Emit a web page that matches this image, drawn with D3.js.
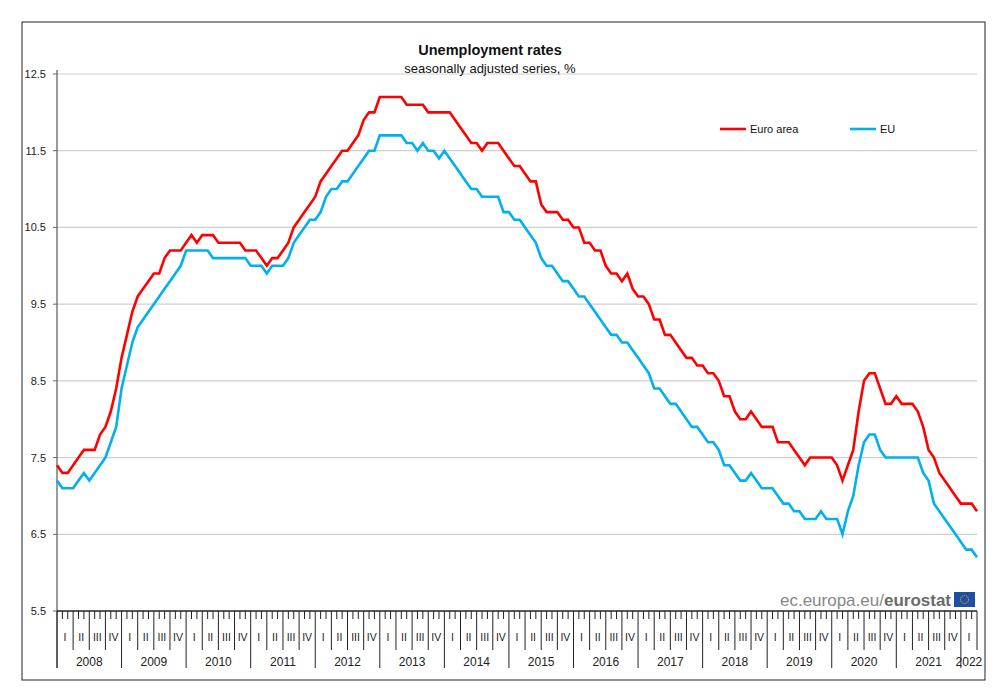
<!DOCTYPE html>
<html><head><meta charset="utf-8">
<script src="https://cdn.jsdelivr.net/npm/d3@7"></script>
<style>body{margin:0;background:#fff}svg{font-family:"Liberation Sans",Arial,sans-serif}</style>
</head><body><svg id="c" width="1000" height="694"></svg>
<script>
const years = ["2008","2009","2010","2011","2012","2013","2014","2015","2016","2017","2018","2019","2020","2021","2022"];
const quarters = ["I","II","III","IV"];
const yTicks = [5.5,6.5,7.5,8.5,9.5,10.5,11.5,12.5];
const euroArea = [
7.4,7.3,7.3,7.4,7.5,7.6,7.6,7.6,7.8,7.9,8.1,8.4,
8.8,9.1,9.4,9.6,9.7,9.8,9.9,9.9,10.1,10.2,10.2,10.2,
10.3,10.4,10.3,10.4,10.4,10.4,10.3,10.3,10.3,10.3,10.3,10.2,
10.2,10.2,10.1,10.0,10.1,10.1,10.2,10.3,10.5,10.6,10.7,10.8,
10.9,11.1,11.2,11.3,11.4,11.5,11.5,11.6,11.7,11.9,12.0,12.0,
12.2,12.2,12.2,12.2,12.2,12.1,12.1,12.1,12.1,12.0,12.0,12.0,
12.0,12.0,11.9,11.8,11.7,11.6,11.6,11.5,11.6,11.6,11.6,11.5,
11.4,11.3,11.3,11.2,11.1,11.1,10.8,10.7,10.7,10.7,10.6,10.6,
10.5,10.5,10.3,10.3,10.2,10.2,10.0,9.9,9.9,9.8,9.9,9.7,
9.6,9.6,9.5,9.3,9.3,9.1,9.1,9.0,8.9,8.8,8.8,8.7,
8.7,8.6,8.6,8.5,8.3,8.3,8.1,8.0,8.0,8.1,8.0,7.9,
7.9,7.9,7.7,7.7,7.7,7.6,7.5,7.4,7.5,7.5,7.5,7.5,
7.5,7.4,7.2,7.4,7.6,8.1,8.5,8.6,8.6,8.4,8.2,8.2,
8.3,8.2,8.2,8.2,8.1,7.9,7.6,7.5,7.3,7.2,7.1,7.0,
6.9,6.9,6.9,6.8];
const eu = [
7.2,7.1,7.1,7.1,7.2,7.3,7.2,7.3,7.4,7.5,7.7,7.9,
8.4,8.7,9.0,9.2,9.3,9.4,9.5,9.6,9.7,9.8,9.9,10.0,
10.2,10.2,10.2,10.2,10.2,10.1,10.1,10.1,10.1,10.1,10.1,10.1,
10.0,10.0,10.0,9.9,10.0,10.0,10.0,10.1,10.3,10.4,10.5,10.6,
10.6,10.7,10.9,11.0,11.0,11.1,11.1,11.2,11.3,11.4,11.5,11.5,
11.7,11.7,11.7,11.7,11.7,11.6,11.6,11.5,11.6,11.5,11.5,11.4,
11.5,11.4,11.3,11.2,11.1,11.0,11.0,10.9,10.9,10.9,10.9,10.7,
10.7,10.6,10.6,10.5,10.4,10.3,10.1,10.0,10.0,9.9,9.8,9.8,
9.7,9.6,9.6,9.5,9.4,9.3,9.2,9.1,9.1,9.0,9.0,8.9,
8.8,8.7,8.6,8.4,8.4,8.3,8.2,8.2,8.1,8.0,7.9,7.9,
7.8,7.7,7.7,7.6,7.4,7.4,7.3,7.2,7.2,7.3,7.2,7.1,
7.1,7.1,7.0,6.9,6.9,6.8,6.8,6.7,6.7,6.7,6.8,6.7,
6.7,6.7,6.5,6.8,7.0,7.4,7.7,7.8,7.8,7.6,7.5,7.5,
7.5,7.5,7.5,7.5,7.5,7.3,7.2,6.9,6.8,6.7,6.6,6.5,
6.4,6.3,6.3,6.2];

const svg = d3.select("#c");
const L = 57, R = 977, T = 74, B = 611;
const nMonths = (years.length - 1) * 12 + 3; // axis extent in months
const x = d3.scaleLinear().domain([0, nMonths]).range([L, R]);
const y = d3.scaleLinear().domain([5.5, 12.5]).range([B, T]);

// frame
svg.append("rect").attr("x",22).attr("y",22).attr("width",963).attr("height",658)
  .attr("fill","none").attr("stroke","#222").attr("stroke-width",1);

// grid
svg.append("g").selectAll("line").data(yTicks.slice(1)).join("line")
  .attr("x1",L).attr("x2",R).attr("y1",d=>y(d)).attr("y2",d=>y(d))
  .attr("stroke","#cfcfcf").attr("stroke-width",1.2);

// y axis
svg.append("line").attr("x1",L).attr("x2",L).attr("y1",T-4).attr("y2",668).attr("stroke","#666").attr("stroke-width",1.3);
const ya = svg.append("g");
ya.selectAll("line").data(yTicks).join("line").attr("x1",L-4).attr("x2",L).attr("y1",d=>y(d)).attr("y2",d=>y(d)).attr("stroke","#666");
ya.selectAll("text").data(yTicks).join("text").attr("x",L-11).attr("y",d=>y(d)+4).attr("text-anchor","end")
  .attr("font-size",11).attr("fill","#222").text(d=>d.toFixed(1));

// x axis
svg.append("line").attr("x1",L).attr("x2",R).attr("y1",B).attr("y2",B).attr("stroke","#222").attr("stroke-width",1.5);
const months = d3.range(0, nMonths + 1);
svg.append("g").selectAll("line").data(months).join("line")
  .attr("x1",d=>x(d)).attr("x2",d=>x(d)).attr("y1",B)
  .attr("y2",d=> d%12===0 ? 668 : d%3===0 ? 650 : B+8)
  .attr("stroke","#222").attr("stroke-width",1);
const qs = d3.range(0, (years.length-1)*4 + 1);
svg.append("g").selectAll("text").data(qs).join("text")
  .attr("x",d=>x(d*3+1.5)).attr("y",641).attr("text-anchor","middle")
  .attr("font-size",10.5).attr("fill","#222").text(d=>quarters[d%4]);
svg.append("g").selectAll("text").data(years).join("text")
  .attr("x",(d,i)=> i===years.length-1 ? x(i*12+1.5) : x(i*12+6)).attr("y",666).attr("text-anchor","middle")
  .attr("font-size",12).attr("fill","#222").text(d=>d);

// lines
const line = d3.line().x((d,i)=>x(i)).y(d=>y(d));
svg.append("path").datum(eu).attr("d",line).attr("fill","none").attr("stroke","#00b0f0").attr("stroke-width",2.6);
svg.append("path").datum(euroArea).attr("d",line).attr("fill","none").attr("stroke","#ff0000").attr("stroke-width",2.6);

// title
svg.append("text").attr("x",490).attr("y",55).attr("text-anchor","middle").attr("font-size",14.5).attr("font-weight","bold").attr("fill","#111").text("Unemployment rates");
svg.append("text").attr("x",490).attr("y",73).attr("text-anchor","middle").attr("font-size",13).attr("fill","#111").text("seasonally adjusted series, %");

// legend
const leg = [["Euro area","#ff0000",720],["EU","#00b0f0",850]];
leg.forEach(([t,c,lx])=>{
  svg.append("line").attr("x1",lx).attr("x2",lx+26).attr("y1",129).attr("y2",129).attr("stroke",c).attr("stroke-width",2.6);
  svg.append("text").attr("x",lx+30).attr("y",133).attr("font-size",11).attr("fill","#111").text(t);
});

// eurostat
const es = svg.append("text").attr("x",951).attr("y",606).attr("text-anchor","end").attr("font-size",17).attr("fill","#888");
es.append("tspan").text("ec.europa.eu/");
es.append("tspan").attr("font-weight","bold").attr("fill","#6b6b6b").text("eurostat");
svg.append("rect").attr("x",954).attr("y",592).attr("width",21).attr("height",15).attr("fill","#1f4fa0");
svg.append("circle").attr("cx",964.5).attr("cy",599.5).attr("r",4).attr("fill","none").attr("stroke","#ffd200").attr("stroke-width",1).attr("stroke-dasharray","1,1");
</script></body></html>
